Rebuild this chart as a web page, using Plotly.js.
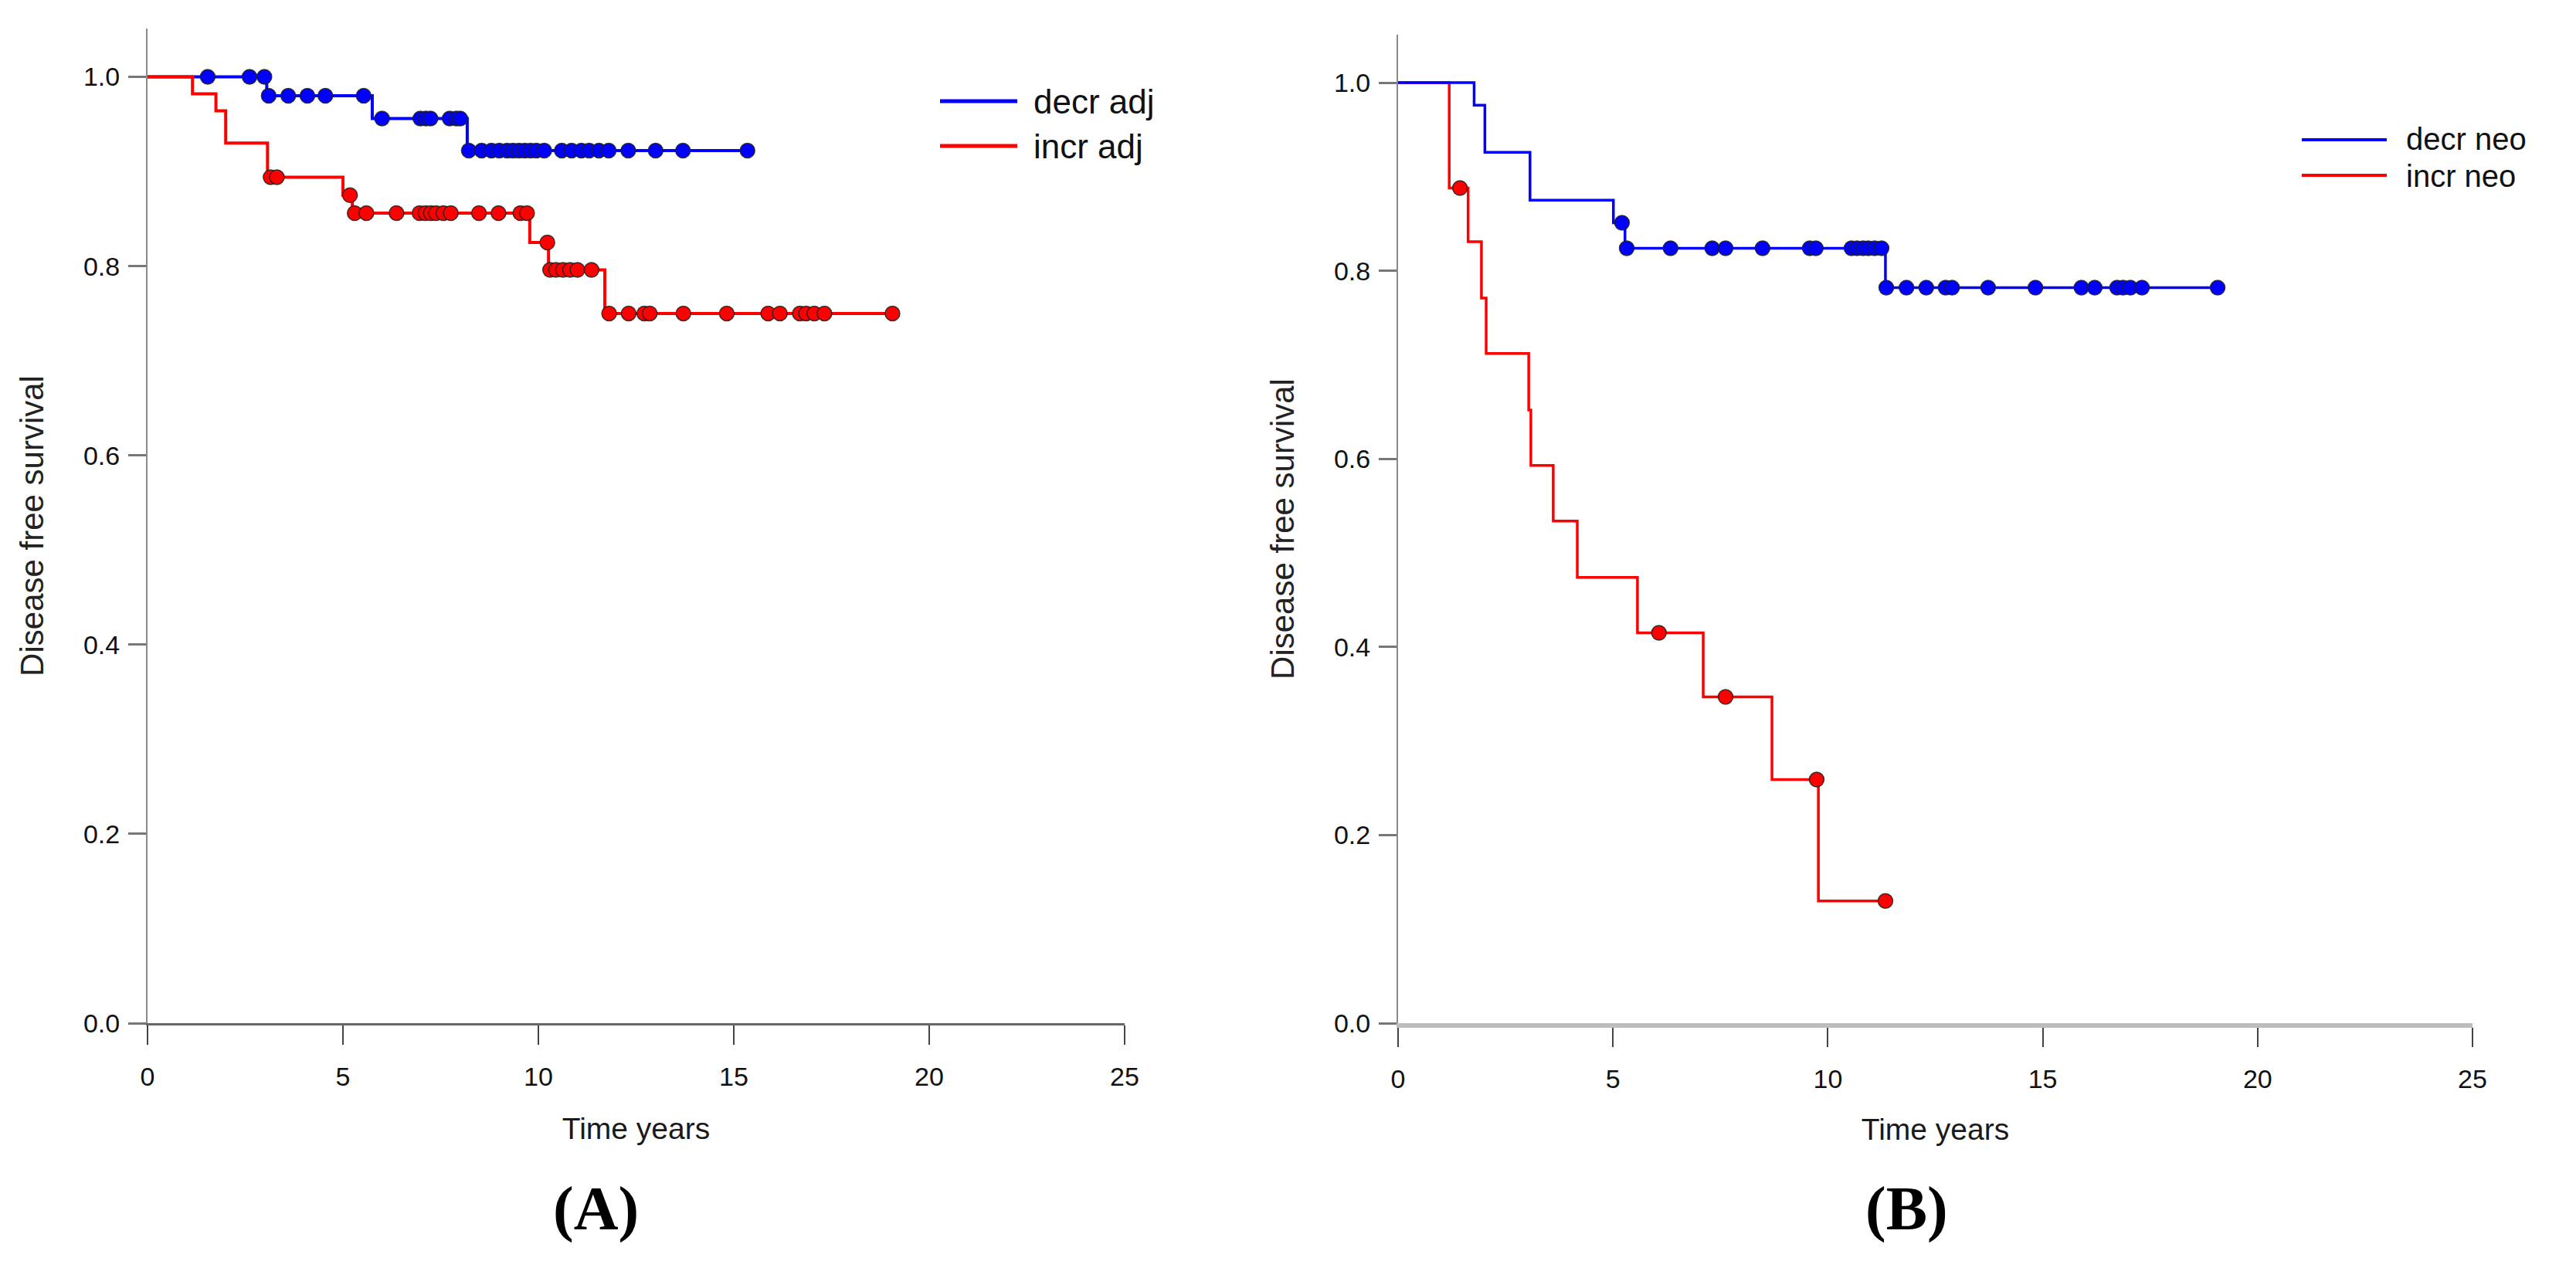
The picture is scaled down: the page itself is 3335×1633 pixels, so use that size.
<!DOCTYPE html>
<html>
<head>
<meta charset="utf-8">
<script src="https://cdn.plot.ly/plotly-3.0.1.min.js"></script>
<style>html,body{margin:0;padding:0;background:#fff;}#chart{width:3335px;height:1633px;}</style>
</head>
<body>
<div id="chart"></div>
<script>
// ---------------- DATA ----------------
var seriesNamesA = ['decr adj', 'incr adj'];
var seriesNamesB = ['decr neo', 'incr neo'];
var panelLabels = ['(A)', '(B)'];
var xTickVals = [0, 5, 10, 15, 20, 25];
var xTickText = ['0', '5', '10', '15', '20', '25'];
var yTickVals = [0, 0.2, 0.4, 0.6, 0.8, 1.0];
var yTickText = ['0.0', '0.2', '0.4', '0.6', '0.8', '1.0'];
var xTitle = 'Time years';
var yTitle = 'Disease free survival';

// Panel A, decr adj
var decrAdjEventT = [3.05, 5.75, 8.18];
var decrAdjEventS = [0.980, 0.956, 0.922];
var decrAdjCensT = [1.54, 2.61, 2.99, 3.10, 3.60, 4.09, 4.55, 5.53, 6.00, 6.98, 7.12, 7.24, 7.73, 7.90, 8.00,
  8.22, 8.55, 8.80, 9.00, 9.20, 9.35, 9.50, 9.65, 9.80, 9.95, 10.15, 10.60, 10.85, 11.10, 11.30, 11.55, 11.80, 12.30, 13.00, 13.70, 15.35];
var decrAdjCensS = [1.0, 1.0, 1.0, 0.980, 0.980, 0.980, 0.980, 0.980, 0.956, 0.956, 0.956, 0.956, 0.956, 0.956, 0.956,
  0.922, 0.922, 0.922, 0.922, 0.922, 0.922, 0.922, 0.922, 0.922, 0.922, 0.922, 0.922, 0.922, 0.922, 0.922, 0.922, 0.922, 0.922, 0.922, 0.922, 0.922];

// Panel A, incr adj
var incrAdjEventT = [1.15, 1.75, 2.00, 3.07, 5.00, 5.24, 9.78, 10.26, 11.70];
var incrAdjEventS = [0.982, 0.964, 0.930, 0.894, 0.875, 0.856, 0.825, 0.796, 0.750];
var incrAdjCensT = [3.15, 3.31, 5.18, 5.30, 5.60, 6.37, 6.96, 7.11, 7.25, 7.38, 7.57, 7.76, 8.48, 8.98, 9.54, 9.71,
  10.23, 10.30, 10.45, 10.63, 10.81, 11.00, 11.36, 11.81, 12.31, 12.71, 12.85, 13.71, 14.82, 15.88, 16.18, 16.69, 16.85, 17.06, 17.32, 19.06];
var incrAdjCensS = [0.894, 0.894, 0.875, 0.856, 0.856, 0.856, 0.856, 0.856, 0.856, 0.856, 0.856, 0.856, 0.856, 0.856, 0.856, 0.856,
  0.825, 0.796, 0.796, 0.796, 0.796, 0.796, 0.796, 0.750, 0.750, 0.750, 0.750, 0.750, 0.750, 0.750, 0.750, 0.750, 0.750, 0.750, 0.750, 0.750];

// Panel B, decr neo
var decrNeoEventT = [1.77, 2.02, 3.07, 5.01, 5.28, 11.34];
var decrNeoEventS = [0.976, 0.926, 0.875, 0.851, 0.824, 0.782];
var decrNeoCensT = [5.21, 5.32, 6.34, 7.31, 7.62, 8.48, 9.58, 9.72, 10.55, 10.68, 10.82, 10.94, 11.09, 11.25,
  11.36, 11.83, 12.29, 12.74, 12.89, 13.73, 14.83, 15.90, 16.21, 16.73, 16.87, 17.04, 17.31, 19.07];
var decrNeoCensS = [0.851, 0.824, 0.824, 0.824, 0.824, 0.824, 0.824, 0.824, 0.824, 0.824, 0.824, 0.824, 0.824, 0.824,
  0.782, 0.782, 0.782, 0.782, 0.782, 0.782, 0.782, 0.782, 0.782, 0.782, 0.782, 0.782, 0.782, 0.782];

// Panel B, incr neo
var incrNeoEventT = [1.19, 1.63, 1.94, 2.05, 3.04, 3.09, 3.61, 4.17, 5.57, 7.10, 8.70, 9.78];
var incrNeoEventS = [0.888, 0.831, 0.771, 0.712, 0.652, 0.593, 0.534, 0.474, 0.415, 0.347, 0.259, 0.130];
var incrNeoCensT = [1.44, 6.07, 7.62, 9.74, 11.34];
var incrNeoCensS = [0.888, 0.415, 0.347, 0.259, 0.130];

// ---------------- STYLE / LAYOUT ----------------
var W = 3335, H = 1633;
var BLUE = '#0000ff', RED = '#ff0000';
function px(x) { return x / W; }
function py(y) { return 1 - y / H; }

function stepLine(evT, evS, cT, cS, color, width, xa, ya, name) {
  var lastT = Math.max(cT[cT.length - 1], evT[evT.length - 1]);
  var t = [0].concat(evT, [lastT]);
  var s = [1].concat(evS, [evS[evS.length - 1]]);
  return { type: 'scatter', mode: 'lines', x: t, y: s, name: name, xaxis: xa, yaxis: ya,
    line: { color: color, width: width, shape: 'hv' }, showlegend: false, hoverinfo: 'x+y' };
}
function censMarks(cT, cS, color, xa, ya, name) {
  return { type: 'scatter', mode: 'markers', x: cT, y: cS, name: name, xaxis: xa, yaxis: ya,
    marker: { color: color, size: 19, line: { color: 'rgba(30,30,30,0.85)', width: 1.5 } },
    cliponaxis: false, showlegend: false };
}

var data = [
  stepLine(decrAdjEventT, decrAdjEventS, decrAdjCensT, decrAdjCensS, BLUE, 4, 'x', 'y', seriesNamesA[0]),
  stepLine(incrAdjEventT, incrAdjEventS, incrAdjCensT, incrAdjCensS, RED, 4, 'x', 'y', seriesNamesA[1]),
  censMarks(decrAdjCensT, decrAdjCensS, BLUE, 'x', 'y', seriesNamesA[0]),
  censMarks(incrAdjCensT, incrAdjCensS, RED, 'x', 'y', seriesNamesA[1]),
  stepLine(incrNeoEventT, incrNeoEventS, incrNeoCensT, incrNeoCensS, RED, 3.5, 'x2', 'y2', seriesNamesB[1]),
  stepLine(decrNeoEventT, decrNeoEventS, decrNeoCensT, decrNeoCensS, BLUE, 3.5, 'x2', 'y2', seriesNamesB[0]),
  censMarks(decrNeoCensT, decrNeoCensS, BLUE, 'x2', 'y2', seriesNamesB[0]),
  censMarks(incrNeoCensT, incrNeoCensS, RED, 'x2', 'y2', seriesNamesB[1])
];

var tickFont = { family: 'Liberation Sans, Arial, sans-serif', size: 34, color: '#111' };

function xAxis(domain, lineColor, lineWidth) {
  return {
    domain: domain, range: [0, 25], showgrid: false, zeroline: false,
    showline: true, linecolor: lineColor, linewidth: lineWidth,
    ticks: 'outside', ticklen: 25, tickwidth: 2, tickcolor: '#444',
    tickvals: xTickVals, ticktext: xTickText, tickfont: tickFont, ticklabelstandoff: 12,
    title: { text: xTitle, font: { family: 'Liberation Sans, Arial, sans-serif', size: 39, color: '#1a1a1a' }, standoff: 36 },
    automargin: false, fixedrange: true
  };
}
function yAxis(domain, anchor) {
  return {
    domain: domain, range: [0, 1.051], anchor: anchor, showgrid: false, zeroline: false,
    showline: true, linecolor: '#8a8a8a', linewidth: 2,
    ticks: 'outside', ticklen: 23, tickwidth: 3, tickcolor: '#777',
    tickvals: yTickVals, ticktext: yTickText, tickfont: tickFont, ticklabelstandoff: 4,
    title: { text: yTitle, font: { family: 'Liberation Sans, Arial, sans-serif', size: 42, color: '#222' }, standoff: 38 },
    automargin: false, fixedrange: true
  };
}

var legFontA = { family: 'Liberation Sans, Arial, sans-serif', size: 44, color: '#111' };
var legFontB = { family: 'Liberation Sans, Arial, sans-serif', size: 40, color: '#111' };

var layout = {
  width: W, height: H,
  margin: { l: 0, r: 0, t: 0, b: 0, pad: 0 },
  paper_bgcolor: '#ffffff', plot_bgcolor: '#ffffff',
  showlegend: false,
  xaxis: Object.assign(xAxis([px(191), px(1456)], '#666', 3), { anchor: 'y' }),
  yaxis: yAxis([py(1325), py(37)], 'x'),
  xaxis2: Object.assign(xAxis([px(1810), px(3201)], '#bdbdbd', 6), { anchor: 'y2' }),
  yaxis2: yAxis([py(1325), py(45)], 'x2'),
  shapes: [
    { type: 'line', xref: 'paper', yref: 'paper', x0: px(1217), x1: px(1317), y0: py(131), y1: py(131), line: { color: BLUE, width: 5 } },
    { type: 'line', xref: 'paper', yref: 'paper', x0: px(1217), x1: px(1317), y0: py(189), y1: py(189), line: { color: RED, width: 5 } },
    { type: 'line', xref: 'paper', yref: 'paper', x0: px(2980), x1: px(3090), y0: py(181), y1: py(181), line: { color: BLUE, width: 4 } },
    { type: 'line', xref: 'paper', yref: 'paper', x0: px(2980), x1: px(3090), y0: py(227), y1: py(227), line: { color: RED, width: 4 } }
  ],
  annotations: [
    { xref: 'paper', yref: 'paper', x: px(1336), y: py(131), xanchor: 'left', yanchor: 'middle', showarrow: false,
      text: seriesNamesA[0], font: legFontA },
    { xref: 'paper', yref: 'paper', x: px(1336), y: py(189), xanchor: 'left', yanchor: 'middle', showarrow: false,
      text: seriesNamesA[1], font: legFontA },
    { xref: 'paper', yref: 'paper', x: px(3113), y: py(180), xanchor: 'left', yanchor: 'middle', showarrow: false,
      text: seriesNamesB[0], font: legFontB },
    { xref: 'paper', yref: 'paper', x: px(3113), y: py(228), xanchor: 'left', yanchor: 'middle', showarrow: false,
      text: seriesNamesB[1], font: legFontB },
    { xref: 'paper', yref: 'paper', x: px(771), y: py(1565), xanchor: 'center', yanchor: 'middle', showarrow: false,
      text: '<b>' + panelLabels[0] + '</b>', font: { family: 'Liberation Serif, Times New Roman, serif', size: 80, color: '#000' } },
    { xref: 'paper', yref: 'paper', x: px(2468), y: py(1565), xanchor: 'center', yanchor: 'middle', showarrow: false,
      text: '<b>' + panelLabels[1] + '</b>', font: { family: 'Liberation Serif, Times New Roman, serif', size: 80, color: '#000' } }
  ]
};

Plotly.newPlot('chart', data, layout, { staticPlot: true, displayModeBar: false });
</script>
</body>
</html>
